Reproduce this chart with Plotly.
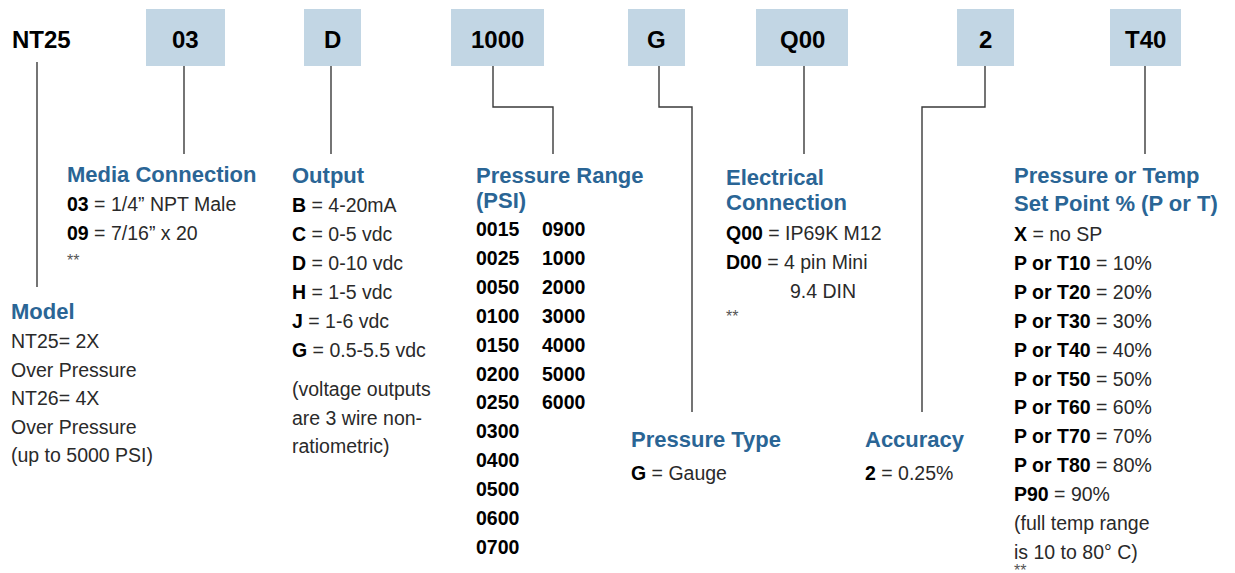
import plotly.graph_objects as go

# ---------------- content (data) ----------------
model_code = "NT25"
segment_codes = ["03", "D", "1000", "G", "Q00", "2", "T40"]

model_header = "Model"
model_lines = ["NT25= 2X", "Over Pressure", "NT26= 4X", "Over Pressure", "(up to 5000 PSI)"]

media_header = "Media Connection"
media_options = [("03", "1/4\u201d NPT Male"), ("09", "7/16\u201d x 20")]

output_header = "Output"
output_options = [("B", "4-20mA"), ("C", "0-5 vdc"), ("D", "0-10 vdc"),
                  ("H", "1-5 vdc"), ("J", "1-6 vdc"), ("G", "0.5-5.5 vdc")]
output_note = ["(voltage outputs", "are 3 wire non-", "ratiometric)"]

range_header = ["Pressure Range", "(PSI)"]
range_col1 = ["0015", "0025", "0050", "0100", "0150", "0200", "0250",
              "0300", "0400", "0500", "0600", "0700"]
range_col2 = ["0900", "1000", "2000", "3000", "4000", "5000", "6000"]

ptype_header = "Pressure Type"
ptype_options = [("G", "Gauge")]

elec_header = ["Electrical", "Connection"]
elec_options = [("Q00", "IP69K M12"), ("D00", "4 pin Mini")]
elec_cont = "9.4 DIN"

acc_header = "Accuracy"
acc_options = [("2", "0.25%")]

sp_header = ["Pressure or Temp", "Set Point % (P or T)"]
sp_options = [("X", "no SP"), ("P or T10", "10%"), ("P or T20", "20%"), ("P or T30", "30%"),
              ("P or T40", "40%"), ("P or T50", "50%"), ("P or T60", "60%"),
              ("P or T70", "70%"), ("P or T80", "80%"), ("P90", "90%")]
sp_note = ["(full temp range", "is 10 to 80\u00b0 C)"]

footnote = "**"

# ---------------- layout / style ----------------
W, H = 1235, 573
BLUE = "#2a6595"
BOX = "#c2d6e4"
LINE = "#3a3a3a"
FONT = "Liberation Sans, Arial, sans-serif"
HDR = 22
BODY = 19.5
CODE = 24
STEP = 29
DX = -1.5  # small glyph side-bearing correction

box_x = [(146, 225), (304, 361), (451, 544), (628, 685), (756, 848), (957, 1014), (1110, 1181)]
box_y = (9, 66)

connectors = [
    [(37, 62), (37, 287)],
    [(184, 66), (184, 154)],
    [(331, 66), (331, 154)],
    [(493, 66), (493, 107), (553, 107), (553, 154)],
    [(659, 66), (659, 107), (692, 107), (692, 412)],
    [(804, 66), (804, 154)],
    [(985, 66), (985, 107), (922, 107), (922, 412)],
    [(1145, 66), (1145, 154)],
]

fig = go.Figure()
fig.add_trace(go.Scatter(x=[0, W], y=[0, H], mode="markers",
                         marker=dict(opacity=0), hoverinfo="skip", showlegend=False))

for (x0, x1) in box_x:
    fig.add_shape(type="rect", x0=x0, x1=x1, y0=box_y[0], y1=box_y[1],
                  fillcolor=BOX, line=dict(width=0), layer="below")

for pts in connectors:
    path = "M " + " L ".join(f"{x},{y}" for x, y in pts)
    fig.add_shape(type="path", path=path, line=dict(color=LINE, width=1.4))

ann = []


def text(x, y, s, size=BODY, color="#2a2a2a", xanchor="left", yanchor="middle"):
    ann.append(dict(x=x + (DX if xanchor == "left" else 0), y=y, xref="x", yref="y",
                    text=s, showarrow=False,
                    xanchor=xanchor, yanchor=yanchor, borderpad=0,
                    font=dict(family=FONT, size=size, color=color)))


def header(x, y, s):
    text(x, y, f"<b>{s}</b>", size=HDR, color=BLUE)


def option(x, y, code, desc):
    text(x, y, f"<b><span style='color:#000'>{code}</span></b> = {desc}")


def note(x, y, yanchor="middle"):
    text(x, y, footnote, size=16, color="#555", yanchor=yanchor)


# codes at top
text(12, 39, f"<b>{model_code}</b>", size=CODE, color="#000")
for (x0, x1), c in zip(box_x, segment_codes):
    text((x0 + x1) / 2, 39, f"<b>{c}</b>", size=CODE, color="#000", xanchor="center")

# Model
header(11, 311, model_header)
for i, s in enumerate(model_lines):
    text(11, 341 + i * 28.6, s)

# Media Connection
header(67, 174, media_header)
for i, (c, d) in enumerate(media_options):
    option(67, 204 + i * STEP, c, d)
note(67, 260)

# Output
header(292, 175, output_header)
for i, (c, d) in enumerate(output_options):
    option(292, 205 + i * 28.9, c, d)
for i, s in enumerate(output_note):
    text(292, 389 + i * 28.6, s)

# Pressure Range
header(476, 175, range_header[0])
header(476, 200, range_header[1])
for i, s in enumerate(range_col1):
    text(476, 229 + i * 28.9, f"<b>{s}</b>", color="#000")
for i, s in enumerate(range_col2):
    text(542, 229 + i * 28.9, f"<b>{s}</b>", color="#000")

# Pressure Type
header(631, 439, ptype_header)
for i, (c, d) in enumerate(ptype_options):
    option(631, 473 + i * STEP, c, d)

# Electrical Connection
header(726, 177, elec_header[0])
header(726, 202, elec_header[1])
for i, (c, d) in enumerate(elec_options):
    option(726, 233 + i * STEP, c, d)
text(790, 291, elec_cont)
note(726, 316)

# Accuracy
header(865, 439, acc_header)
for i, (c, d) in enumerate(acc_options):
    option(865, 473 + i * STEP, c, d)

# Set point
header(1014, 175, sp_header[0])
header(1014, 203, sp_header[1])
for i, (c, d) in enumerate(sp_options):
    option(1014, 234 + i * 28.9, c, d)
for i, s in enumerate(sp_note):
    text(1014, 523 + i * 28.6, s)
note(1014, 561, yanchor="top")

fig.update_layout(
    width=W, height=H,
    margin=dict(l=0, r=0, t=0, b=0),
    paper_bgcolor="white", plot_bgcolor="white",
    xaxis=dict(range=[0, W], visible=False, fixedrange=True),
    yaxis=dict(range=[H, 0], visible=False, fixedrange=True),
    annotations=ann,
    showlegend=False,
)

fig.write_html("out.html", config={"displayModeBar": False},
               post_script="document.body.style.margin='0';document.body.style.overflow='hidden';")
